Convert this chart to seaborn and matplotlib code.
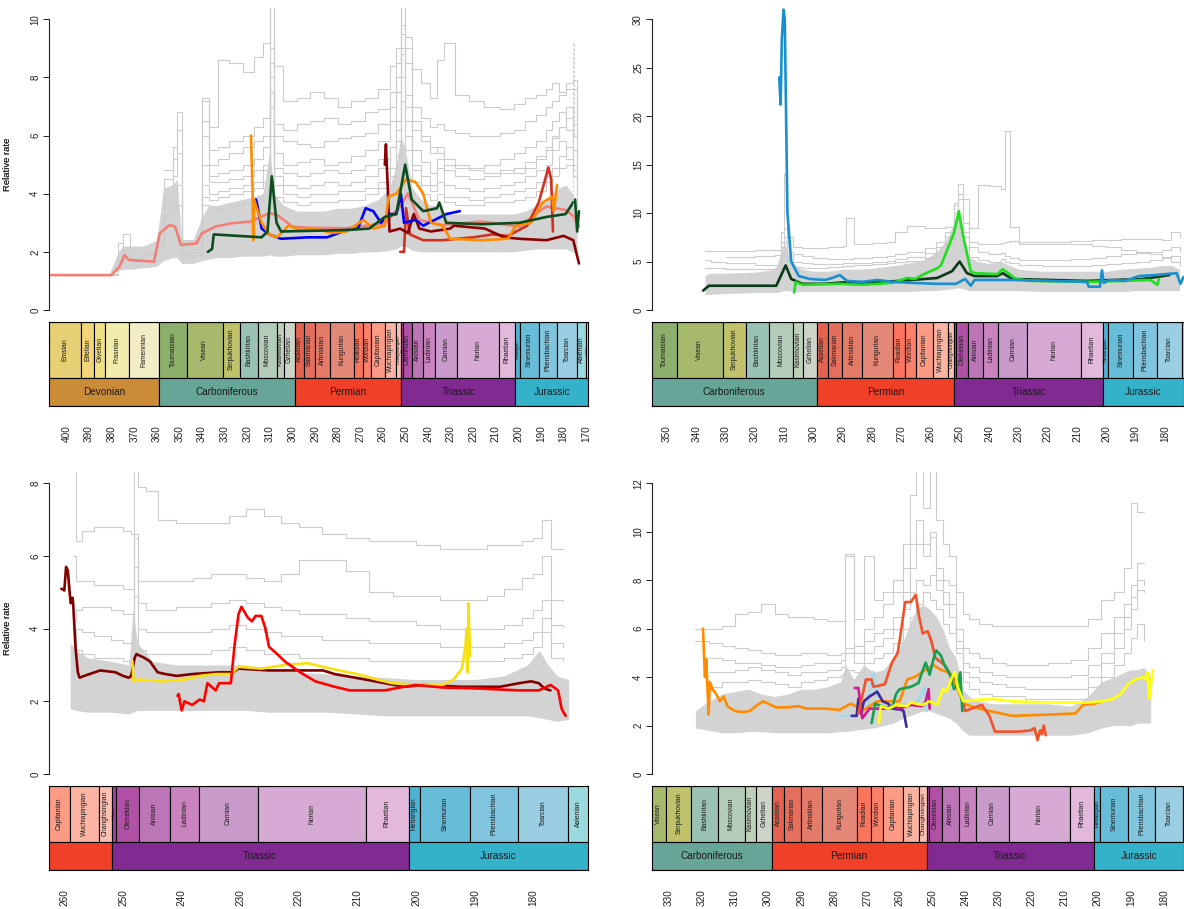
import numpy as np
import pandas as pd
import seaborn as sns
import matplotlib.pyplot as plt
from matplotlib.patches import Rectangle
from matplotlib.ticker import MultipleLocator

sns.set_style("white")
plt.rcParams['font.family'] = ['Liberation Sans', 'DejaVu Sans']

nan = np.nan

# ---- geological timescale (ICS 2018) ----
STAGE_NAMES = ['Pragian', 'Emsian', 'Eifelian', 'Givetian', 'Frasnian', 'Famennian',
               'Tournaisian', 'Visean', 'Serpukhovian', 'Bashkirian', 'Moscovian', 'Kasimovian', 'Gzhelian',
               'Asselian', 'Sakmarian', 'Artinskian', 'Kungurian', 'Roadian', 'Wordian', 'Capitanian',
               'Wuchiapingian', 'Changhsingian', 'Induan', 'Olenekian', 'Anisian', 'Ladinian', 'Carnian',
               'Norian', 'Rhaetian', 'Hettangian', 'Sinemurian', 'Pliensbachian', 'Toarcian', 'Aalenian', 'Bajocian']
STAGE_BASE = [410.8, 407.6, 393.3, 387.7, 382.7, 372.2, 358.9, 346.7, 330.9, 323.2, 315.2, 307.0, 303.7,
              298.9, 295.0, 290.1, 283.5, 272.95, 268.8, 265.1, 259.1, 254.14, 251.902, 251.2, 247.2, 242.0,
              237.0, 227.0, 208.5, 201.3, 199.3, 190.8, 182.7, 174.1, 170.3]
STAGE_TOP = STAGE_BASE[1:] + [168.3]
STAGE_COLS = ['#E5C468', '#E5D075', '#F1D576', '#F1E185', '#F2EDAD', '#F2EDC5',
              '#8CB06C', '#A6B96C', '#BFC26B', '#99C2B5', '#B3CBB9', '#BFD0BA', '#CCD4C7',
              '#E36350', '#E36F5C', '#E37B68', '#E38776', '#FB745C', '#FB8069', '#FB9A85',
              '#FCB4A2', '#FCC0B2', '#A4469F', '#B051A5', '#BC75B7', '#C983BF', '#C99BCB',
              '#D6AAD3', '#E3B9DB', '#4EB3D3', '#67BCD8', '#80C5DD', '#99CEE3', '#9AD9DD', '#A6DDE0']
PERIOD_NAMES = ['Devonian', 'Carboniferous', 'Permian', 'Triassic', 'Jurassic']
PERIOD_BASE = [419.2, 358.9, 298.9, 251.902, 201.3]
PERIOD_TOP = [358.9, 298.9, 251.902, 201.3, 145.0]
PERIOD_COLS = ['#CB8C37', '#67A599', '#F04028', '#812B92', '#34B2C9']

# ---- panel 1 (top left) ----
TL_GRID = [381, 377, 375, 372, 366, 360, 357, 353, 351, 349, 344, 340, 337, 333, 328, 322, 317, 313, 310, 308,
           304, 298, 292, 286, 280, 274, 268, 262, 257, 254, 252, 250, 247, 243, 239, 236, 233, 228, 222, 215,
           208, 202, 197, 192, 188, 185, 182, 179, 176, 174]
TL_BAND_LO = [1.2, 1.35, 1.4, 1.4, 1.45, 1.5, 1.7, 1.8, 1.8, 1.6, 1.6, 1.7, 1.75, 1.8, 1.8, 1.85, 1.85, 1.85, 1.9, 1.85,
              1.85, 1.9, 1.9, 1.9, 1.95, 1.95, 2.0, 2.0, 2.05, 2.1, 2.2, 2.2, 2.05, 2.0, 2.0, 2.0, 2.0, 2.0, 2.0, 2.0,
              2.0, 2.0, 2.05, 2.1, 2.1, 2.1, 2.1, 2.1, 2.0, 1.9]
TL_BAND_HI = [1.25, 2.0, 2.2, 2.2, 2.2, 2.4, 4.2, 4.3, 4.5, 2.4, 2.4, 3.2, 3.6, 3.6, 3.7, 3.8, 3.9, 4.0, 5.5, 4.0,
              3.6, 3.4, 3.4, 3.4, 3.5, 3.5, 3.6, 3.8, 4.2, 5.0, 6.0, 5.5, 4.2, 3.8, 3.6, 3.6, 3.3, 3.3, 3.3, 3.3,
              3.3, 3.3, 3.4, 3.6, 3.8, 4.0, 4.2, 4.3, 4.0, 3.0]
TL_GREY_1 = [nan] * 11 + [7.2, 6.3, 8.6, 8.5, 8.2, 8.7, 9.2, 10.5, 8.4, 7.2, 7.3, 7.5, 7.3, 7.0, 7.2, 7.3, 7.6, 8.4,
                          9.0, 10.5, 9.4, 8.3, 7.8, 7.3, 8.6, 9.2, 7.4, 7.2, 7.0, 6.9, 7.1, 7.3, 7.4, 7.6, 7.8, 7.5,
                          7.8, 7.9, 6.5]
TL_GREY_2 = [nan] * 11 + [6.5, 5.5, 5.6, 5.8, 6.0, 6.3, 6.6, 8.0, 6.4, 6.2, 6.4, 6.5, 6.6, 6.4, 6.5, 6.8, 6.9, 7.5,
                          8.5, 9.8, 8.5, 7.0, 6.6, 6.3, 6.4, 6.2, 6.1, 6.0, 6.0, 6.1, 6.2, 6.5, 6.7, 7.0, 7.2, 7.4,
                          7.6, 7.6, 6.0]
TL_GREY_3 = [nan] * 6 + [4.8, 5.2, 6.8, 2.2, 2.3, 5.0, 4.6, 4.7, 4.8, 5.0, 5.2, 5.6, 7.5, 5.4, 5.0, 5.1, 5.2, 5.0,
                         5.1, 5.3, 5.5, 5.8, 6.5, 7.5, 9.0, 7.4, 6.2, 5.8, 5.4, 5.6, 5.2, 5.0, 4.9, 5.0, 5.2, 5.4,
                         5.6, 5.8, 6.2, 6.5, 6.8, 6.2, 5.5, 4.8]
TL_GREY_4 = [nan] * 5 + [2.2, 4.0, 4.6, 5.4, 2.0, 2.1, 4.3, 4.0, 4.1, 4.2, 4.3, 4.4, 4.8, 9.0, 4.6, 4.3, 4.2, 4.3,
                         4.4, 4.3, 4.4, 4.6, 4.9, 5.6, 6.5, 8.0, 6.0, 5.0, 4.6, 4.3, 4.9, 4.3, 4.2, 4.1, 4.2, 4.3,
                         4.4, 4.6, 4.8, 5.0, 5.5, 5.8, 5.2, 4.8, 3.8]
TL_GREY_5 = [1.2, 1.6, 2.6, 2.0, 2.0, 2.4, 3.5, 3.8, 4.3, 1.8, 1.9, 3.6, 3.4, 3.5, 3.6, 3.7, 3.8, 4.0, 6.0, 3.9,
             3.7, 3.6, 3.7, 3.7, 3.8, 3.8, 4.0, 4.2, 4.6, 5.3, 7.2, 5.5, 4.4, 4.0, 3.8, 4.0, 3.7, 3.6, 3.6, 3.7,
             3.7, 3.8, 3.9, 4.1, 4.4, 4.6, 4.9, 5.0, 4.6, 3.5]
TL_GREY_6 = [1.25, 2.3, 2.0, 1.8, 1.9, 2.3, 4.5, 5.6, 6.2, 2.4, 2.4, 7.3, 5.0, 5.2, 5.4, 5.6, 5.8, 6.0, 10.5, 6.0,
             5.8, 5.7, 5.6, 5.8, 5.9, 6.0, 6.1, 6.4, 7.0, 8.0, 10.5, 9.0, 6.5, 6.0, 5.6, 5.4, 5.0, 4.9, 4.8, 4.7,
             4.8, 4.7, 4.9, 5.2, 5.5, 5.9, 6.3, 7.0, 6.0, 5.0]
TL_GREY_7 = [nan] * 11 + [6.0, 4.4, 4.4, 4.5, 4.6, 4.8, 5.0, 8.5, 4.9, 4.7, 4.6, 4.7, 4.8, 4.7, 4.8, 5.0, 5.2, 5.6,
                          6.2, 9.5, 7.0, 5.5, 5.1, 4.7, 5.2, 4.8, 4.6, 4.5, 4.6, 4.7, 4.9, 5.1, 5.3, 5.6, 6.0, 6.3,
                          6.6, 6.4, 5.2]
TL_GREY_8 = [nan] * 6 + [3.2, 3.4, 3.6, 1.9, 2.0, 3.9, 3.8, 3.9, 4.0, 4.1, 4.2, 4.4, 7.0, 4.3, 4.0, 3.9, 4.0, 4.0,
                         4.1, 4.1, 4.2, 4.4, 4.9, 5.8, 8.8, 6.5, 4.8, 4.3, 4.1, 4.4, 3.9, 3.9, 3.8, 3.9, 4.0, 4.1,
                         4.2, 4.4, 4.6, 4.9, 5.3, 5.6, 5.0, 4.2]
TL_DASH_AGE = [175.9, 175.9, 175.6, 175.6]
TL_DASH_RATE = [3.0, 9.2, 9.2, 6.0]

TL_SALMON_AGE = [408.5, 380.0, 376.5, 374.3, 372.3, 361.2, 358.7, 354.4, 351.9, 349.3, 342.5, 340.0, 334.0, 327.2,
                 318.7, 310.2, 306.8, 300.0, 293.1, 276.1, 259.1, 252.3, 248.9, 243.8, 233.6, 216.5, 199.5, 191.0,
                 187.6, 179.1, 175.7, 173.2]
TL_SALMON_RATE = [1.2, 1.2, 1.49, 1.89, 1.72, 1.66, 2.64, 2.92, 2.87, 2.24, 2.29, 2.64, 2.87, 2.98, 3.04, 3.33,
                  3.27, 2.87, 2.83, 2.81, 2.98, 3.56, 4.01, 3.1, 2.92, 3.04, 2.87, 3.38, 3.56, 3.44, 3.23, 2.87]
TL_DKGREEN_AGE = [337.4, 335.5, 334.8, 313.6, 311.0, 309.1, 307.0, 305.0, 276.1, 266.0, 259.1, 254.0, 250.1, 247.2,
                  242.1, 236.0, 235.0, 231.9, 216.5, 199.5, 187.6, 179.1, 174.9, 174.0, 173.2]
TL_DKGREEN_RATE = [2.0, 2.1, 2.6, 2.5, 2.7, 4.6, 3.0, 2.7, 2.75, 2.8, 3.2, 3.3, 5.0, 3.8, 3.4, 3.5, 3.7, 3.0,
                   2.95, 3.0, 3.2, 3.3, 3.8, 2.7, 3.4]
TL_BLUE_AGE = [316.1, 315.5, 313.6, 310.2, 305.1, 293.1, 284.6, 276.1, 271.0, 267.6, 264.2, 260.8, 257.4, 254.0,
               252.0, 250.6, 245.5, 242.1, 237.0, 231.9, 225.9]
TL_BLUE_RATE = [3.8, 3.6, 2.8, 2.6, 2.45, 2.5, 2.5, 2.75, 2.8, 3.5, 3.4, 3.0, 3.3, 3.3, 4.0, 3.0, 3.1, 2.9, 3.1,
                3.3, 3.4]
TL_ORANGE_AGE = [318.3, 317.6, 317.3, 317.0, 313.6, 310.2, 306.8, 301.7, 296.5, 289.7, 282.9, 276.1, 268.5, 264.2,
                 259.1, 257.4, 254.0, 249.7, 245.5, 242.1, 238.7, 233.6, 230.2, 216.5, 204.6, 201.2, 194.4, 189.3,
                 185.0, 184.3, 182.9]
TL_ORANGE_RATE = [6.0, 4.0, 2.4, 3.8, 3.0, 2.6, 2.5, 2.9, 2.75, 2.8, 2.65, 2.7, 3.1, 2.8, 2.9, 3.9, 4.0, 4.5, 4.4,
                  4.0, 3.0, 2.9, 2.45, 2.4, 2.45, 2.9, 3.0, 3.7, 3.9, 3.4, 4.3]
TL_DKRED_AGE = [259.1, 258.6, 257.0, 252.3, 248.9, 246.3, 243.8, 238.7, 230.2, 228.5, 214.8, 206.3, 199.5, 187.6,
                180.0, 175.7, 173.2]
TL_DKRED_RATE = [5.0, 5.7, 2.7, 2.8, 2.65, 3.3, 2.8, 2.7, 2.8, 2.9, 2.8, 2.5, 2.45, 2.4, 2.55, 2.4, 1.6]
TL_RED_AGE = [252.3, 250.6, 249.7, 248.0, 242.1, 233.6, 220.0, 211.4, 204.6, 196.1, 191.0, 186.7, 185.5, 184.7]
TL_RED_RATE = [2.0, 2.0, 3.5, 2.6, 2.4, 2.4, 2.5, 2.6, 2.55, 2.9, 3.7, 4.9, 4.5, 2.7]

# ---- panel 2 (top right) ----
TR_GRID = [337, 335, 330, 320, 313, 311, 310, 309, 307, 304, 300, 295, 290, 289, 286, 280, 275, 272, 268, 262,
           258, 255, 252, 250.5, 249, 247, 244, 240, 236, 234.5, 233, 230, 222, 212, 205, 200, 195, 190, 185, 181,
           178, 175]
TR_BAND_LO = [1.6, 1.6, 1.7, 1.8, 1.8, 1.9, 2.0, 2.0, 1.9, 1.9, 1.9, 1.9, 1.9, 1.9, 1.9, 1.9, 1.9, 1.9, 1.9, 2.0,
              2.0, 2.1, 2.2, 2.3, 2.2, 2.0, 2.0, 2.0, 2.0, 2.0, 2.0, 2.0, 1.9, 1.9, 1.9, 1.9, 1.9, 2.0, 2.0, 2.0,
              2.0, 2.0]
TR_BAND_HI = [3.6, 3.8, 3.8, 3.9, 4.2, 6.0, 7.0, 6.0, 4.8, 4.2, 4.0, 4.0, 4.2, 4.2, 4.2, 4.3, 4.5, 4.6, 4.8, 5.2,
              6.0, 7.0, 9.0, 10.0, 8.0, 5.5, 5.0, 4.8, 5.0, 4.8, 4.6, 4.2, 4.0, 4.0, 4.0, 4.0, 4.2, 4.3, 4.4, 4.6,
              4.6, 4.2]
TR_GREY_1 = [6.1, 6.1, 6.1, 6.2, 6.2, 8.0, 14.0, 7.5, 6.5, 6.4, 6.4, 6.5, 6.6, 9.5, 6.8, 6.9, 7.0, 8.0, 8.7, 8.5,
             8.5, 8.6, 10.8, 11.5, 8.0, 7.0, 6.8, 6.8, 6.9, 7.0, 7.1, 7.0, 7.0, 7.1, 7.2, 7.2, 7.3, 7.3, 7.3, 7.2,
             8.0, 7.5]
TR_GREY_2 = [nan, nan, 5.5, 5.6, 5.7, 6.5, 7.0, 6.0, 5.8, 5.6, 5.4, 5.3, 5.3, 5.3, 5.4, 5.5, 5.6, 5.8, 6.0, 6.4,
             7.0, 8.0, 11.0, 13.0, 11.5, 8.5, 12.9, 12.8, 12.5, 18.5, 8.6, 6.8, 6.8, 6.8, 6.6, 6.5, 6.2, 6.0, 5.8,
             5.5, 5.0, 4.5]
TR_GREY_3 = [5.2, 5.0, 4.8, 4.6, 4.6, 7.0, 8.5, 6.0, 5.0, 4.8, 4.7, 4.7, 4.8, 4.8, 4.9, 5.0, 5.1, 5.3, 5.5, 5.9,
             6.5, 7.5, 10.0, 12.0, 9.0, 6.5, 6.0, 5.8, 5.9, 5.6, 5.4, 5.2, 5.2, 5.3, 5.4, 5.6, 5.8, 5.9, 6.0, 6.2,
             6.5, 6.0]
TR_GREY_4 = [4.3, 4.3, 4.2, 4.2, 4.3, 5.5, 7.5, 5.0, 4.4, 4.3, 4.3, 4.4, 4.5, 4.5, 4.6, 4.7, 4.8, 5.0, 5.1, 5.4,
             6.0, 6.8, 8.5, 9.5, 7.5, 5.5, 5.2, 5.0, 5.3, 5.0, 4.8, 4.6, 4.5, 4.5, 4.6, 4.7, 4.8, 5.0, 5.2, 5.4,
             5.6, 5.0]

TR_BLUE_AGE = [311.7, 311.2, 310.8, 310.2, 309.8, 308.9, 307.6, 305.0, 301.2, 296.1, 293.6, 291.0, 288.5, 283.3,
               278.2, 273.1, 266.7, 257.8, 251.4, 248.2, 246.3, 245.0, 232.2, 219.4, 206.7, 206.0, 202.2, 201.5,
               200.9, 199.0, 193.9, 188.8, 183.7, 176.0, 174.7, 173.7]
TR_BLUE_RATE = [24.0, 21.2, 28.0, 31.0, 30.0, 10.0, 5.0, 3.5, 3.2, 3.1, 3.3, 3.6, 3.0, 2.9, 3.1, 2.9, 2.8, 2.7,
                2.7, 3.2, 2.5, 3.1, 3.1, 3.0, 2.9, 2.4, 2.4, 4.1, 2.8, 3.1, 3.0, 3.5, 3.6, 3.8, 2.7, 3.4]
TR_DKGREEN_AGE = [337.7, 335.7, 312.7, 309.5, 307.6, 303.8, 296.1, 289.7, 283.3, 270.6, 257.8, 252.7, 250.1, 247.6,
                  245.0, 237.3, 235.4, 232.2, 206.7, 187.5, 178.5]
TR_DKGREEN_RATE = [2.0, 2.5, 2.5, 4.6, 3.2, 2.7, 2.7, 2.85, 2.8, 3.0, 3.3, 4.0, 5.0, 3.8, 3.5, 3.5, 3.8, 3.2, 3.0,
                   3.2, 3.6]
TR_GREEN_AGE = [306.6, 306.1, 303.8, 291.0, 283.3, 273.1, 268.0, 265.4, 261.6, 257.8, 256.5, 254.6, 252.0, 250.4,
                248.8, 246.3, 245.0, 237.3, 235.4, 233.5, 230.9, 225.8, 206.7, 193.9, 185.0, 182.6, 182.1]
TR_GREEN_RATE = [1.8, 2.9, 2.6, 2.7, 2.6, 2.8, 3.3, 3.2, 3.8, 4.3, 4.6, 6.0, 8.0, 10.2, 7.5, 4.0, 3.8, 3.7, 4.2,
                 3.8, 3.2, 3.0, 2.9, 3.0, 3.1, 2.6, 3.2]

# ---- panel 3 (bottom left) ----
BL_GRID = [262, 260, 258.5, 258, 257, 255, 252, 250, 248.7, 248.2, 247.5, 246, 244, 241, 238, 235, 232, 229, 226,
           223, 220, 216, 212, 208, 204, 200, 196, 192, 188, 185, 182, 180, 178.5, 177, 175, 173]
BL_BAND_AGE = [259, 258, 256, 252, 249, 248.3, 247.5, 245, 241, 237, 233, 229, 225, 220, 215, 210, 205, 200, 195,
               190, 185, 181, 179, 177.5, 176, 174]
BL_BAND_LO = [1.8, 1.75, 1.7, 1.7, 1.65, 1.7, 1.75, 1.75, 1.75, 1.75, 1.75, 1.75, 1.7, 1.7, 1.7, 1.65, 1.6, 1.6,
              1.6, 1.6, 1.6, 1.6, 1.55, 1.5, 1.45, 1.5]
BL_BAND_HI = [3.6, 3.4, 3.2, 3.1, 3.0, 4.5, 3.6, 3.1, 3.0, 3.0, 3.0, 3.0, 2.9, 2.8, 2.75, 2.7, 2.65, 2.6, 2.6, 2.6,
              2.7, 3.0, 3.4, 3.0, 2.7, 2.6]
BL_GREY_1 = [nan, nan, 8.5, 6.4, 6.7, 6.8, 6.8, 6.7, 6.6, 8.5, 7.9, 7.8, 7.0, 6.9, 6.9, 6.9, 7.1, 7.3, 7.1, 6.9,
             6.8, 6.6, 6.5, 6.4, 6.4, 6.3, 6.2, 6.2, 6.3, 6.3, 6.4, 6.5, 7.0, 6.2, 6.2, nan]
BL_GREY_2 = [nan, nan, 6.0, 5.3, 5.3, 5.2, 5.2, 5.1, 5.1, 6.5, 5.3, 5.3, 5.3, 5.3, 5.4, 5.5, 5.5, 5.4, 5.3, 5.5,
             5.9, 5.9, 5.6, 5.0, 4.9, 4.9, 4.8, 4.8, 4.9, 5.1, 5.4, 5.5, 6.0, 4.8, 4.75, nan]
BL_GREY_3 = [nan, nan, 4.2, 4.5, 4.6, 4.6, 4.5, 4.4, 4.4, 6.6, 4.7, 4.5, 4.5, 4.6, 4.6, 4.7, 4.8, 4.7, 4.6, 4.5,
             4.4, 4.4, 4.3, 4.2, 4.2, 4.1, 4.0, 4.0, 4.0, 4.1, 4.3, 4.5, 4.8, 4.1, 4.05, nan]
BL_GREY_4 = [nan, nan, 3.5, 4.0, 3.9, 3.8, 3.7, 3.6, 3.6, 5.7, 4.0, 3.9, 3.9, 3.9, 3.9, 4.0, 4.1, 4.0, 3.9, 3.8,
             3.8, 3.7, 3.7, 3.6, 3.6, 3.6, 3.5, 3.5, 3.5, 3.6, 3.7, 3.9, 4.3, 3.6, 3.5, nan]
BL_GREY_5 = [nan, nan, 3.0, 3.4, 3.3, 3.2, 3.2, 3.1, 3.1, 4.9, 3.4, 3.3, 3.3, 3.3, 3.3, 3.4, 3.5, 3.4, 3.3, 3.3,
             3.2, 3.2, 3.2, 3.1, 3.1, 3.1, 3.1, 3.1, 3.1, 3.2, 3.3, 3.5, 3.9, 3.2, 3.1, nan]

BL_DKRED_AGE = [260.5, 260.0, 259.7, 259.4, 259.1, 258.9, 258.6, 258.5, 258.1, 257.7, 257.4, 256.6, 253.9, 251.3,
                250.0, 249.0, 248.6, 248.0, 247.7, 246.4, 245.4, 244.1, 242.8, 240.8, 238.2, 233.6, 231.3, 230.3,
                225.1, 220.5, 215.9, 213.9, 208.7, 205.4, 202.1, 198.8, 192.2, 185.7, 182.4, 180.4, 179.1, 178.1,
                177.1]
BL_DKRED_RATE = [5.1, 5.05, 5.7, 5.6, 5.0, 4.7, 4.85, 4.7, 3.5, 2.8, 2.65, 2.7, 2.85, 2.8, 2.7, 2.65, 2.7, 3.2,
                 3.3, 3.2, 3.1, 2.8, 2.75, 2.7, 2.75, 2.8, 2.8, 2.9, 2.85, 2.85, 2.85, 2.75, 2.6, 2.5, 2.4, 2.45,
                 2.4, 2.4, 2.5, 2.55, 2.5, 2.35, 2.3]
BL_YELLOW_AGE = [248.4, 248.2, 247.4, 243.4, 239.5, 236.9, 234.2, 231.6, 230.3, 226.4, 222.4, 218.5, 215.9, 213.2,
                 210.0, 206.7, 204.1, 200.1, 195.5, 193.6, 192.2, 191.6, 191.4, 191.2, 191.1, 190.8]
BL_YELLOW_RATE = [3.1, 2.55, 2.6, 2.55, 2.6, 2.7, 2.75, 2.75, 2.95, 2.9, 3.0, 3.05, 2.95, 2.85, 2.75, 2.6, 2.5,
                  2.45, 2.45, 2.6, 2.9, 3.5, 4.0, 2.8, 4.7, 3.25]
BL_RED_AGE = [240.7, 240.5, 240.0, 239.5, 238.2, 236.9, 236.2, 235.6, 234.2, 233.6, 231.6, 231.0, 230.3, 229.8,
              228.7, 228.0, 227.4, 226.4, 225.7, 225.1, 223.7, 222.4, 221.1, 219.8, 217.2, 213.9, 211.3, 205.4,
              202.1, 200.1, 195.5, 189.0, 182.4, 179.1, 177.1, 176.2, 175.8, 175.2, 174.9, 174.5]
BL_RED_RATE = [2.15, 2.2, 1.75, 2.0, 1.9, 2.05, 2.0, 2.5, 2.3, 2.5, 2.5, 3.5, 4.4, 4.6, 4.3, 4.2, 4.35, 4.35, 4.0,
               3.5, 3.3, 3.1, 2.95, 2.8, 2.55, 2.4, 2.3, 2.3, 2.4, 2.45, 2.38, 2.35, 2.3, 2.3, 2.45, 2.35, 2.3,
               1.8, 1.7, 1.6]

# ---- panel 4 (bottom right) ----
BR_GRID = [322, 318, 314, 310, 306, 302, 298, 294, 290, 286, 282, 278, 276.5, 274, 271, 268, 265, 262, 259, 257,
           255, 253, 251, 249, 247, 245, 243, 241, 239, 236, 232, 228, 222, 215, 208, 203, 199, 195, 192, 190,
           188, 186, 184]
BR_BAND_LO = [1.9, 1.8, 1.7, 1.7, 1.75, 1.75, 1.7, 1.7, 1.7, 1.7, 1.7, 1.75, 1.75, 1.8, 1.85, 1.9, 2.0, 2.1, 2.3,
              2.4, 2.5, 2.6, 2.6, 2.5, 2.4, 2.3, 2.1, 1.8, 1.6, 1.6, 1.6, 1.6, 1.6, 1.6, 1.6, 1.7, 1.9, 2.0, 2.0,
              2.0, 2.1, 2.1, 2.1]
BR_BAND_HI = [2.6, 3.0, 3.3, 3.4, 3.5, 3.3, 3.2, 3.3, 3.5, 3.5, 3.6, 3.8, 4.5, 3.9, 4.5, 4.2, 4.3, 4.8, 5.5, 6.2,
              6.8, 7.0, 6.8, 6.5, 6.0, 5.2, 4.8, 3.5, 3.2, 3.0, 2.9, 2.9, 2.9, 2.9, 2.8, 3.2, 3.8, 4.0, 4.2, 4.3,
              4.3, 4.4, 4.0]
BR_GREY_1 = [6.0, 6.0, 6.1, 6.6, 6.7, 7.0, 6.6, 6.5, 6.5, 6.4, 6.3, 6.3, 9.0, 6.4, 9.0, 7.2, 7.5, 8.0, 9.5, 11.5,
             12.5, 11.0, 12.5, 10.5, 9.5, 9.0, 7.5, 6.6, 6.4, 6.2, 6.1, 6.1, 6.1, 6.1, 6.1, 6.4, 7.2, 7.5, 8.5,
             11.2, 10.8, 10.8, nan]
BR_GREY_2 = [5.5, 5.4, 5.3, 5.2, 5.1, 5.0, 4.9, 4.9, 5.0, 5.0, 4.9, 5.0, 5.2, 5.3, 6.0, 6.5, 7.0, 7.5, 8.5, 9.5,
             10.5, 9.5, 10.0, 8.5, 8.0, 7.8, 6.0, 5.2, 5.0, 4.8, 4.6, 4.5, 4.5, 4.6, 4.7, 5.2, 5.8, 6.5, 7.0, 7.8,
             8.7, 8.7, nan]
BR_GREY_3 = [nan, 4.2, 4.2, 4.3, 4.4, 4.3, 4.2, 4.1, 4.2, 4.2, 4.3, 4.4, 9.1, 4.6, 5.0, 5.3, 5.6, 6.0, 6.8, 7.5,
             8.0, 7.8, 8.2, 7.6, 7.0, 6.5, 5.0, 4.2, 4.0, 3.8, 3.7, 3.6, 3.5, 3.5, 3.5, 4.0, 4.6, 5.2, 6.0, 6.8,
             7.6, 7.5, nan]
BR_GREY_4 = [nan, 3.6, 3.8, 3.8, 3.9, 3.8, 3.7, 3.6, 3.8, 3.9, 4.0, 4.1, 4.3, 4.2, 4.6, 4.8, 5.0, 5.4, 6.0, 6.5,
             7.0, 7.5, 7.2, 6.8, 6.2, 5.8, 5.2, 3.8, 3.5, 3.3, 3.2, 3.2, 3.1, 3.1, 3.1, 3.6, 4.0, 4.5, 5.0, 5.6,
             6.2, 5.5, nan]
BR_GREY_5 = [nan, 4.8, 4.7, 4.6, 4.6, 4.5, 4.4, 4.4, 4.5, 4.6, 4.6, 4.7, 5.0, 5.0, 5.5, 5.8, 6.0, 6.5, 7.5, 8.5,
             9.5, 9.0, 9.8, 8.0, 7.5, 7.0, 5.5, 4.6, 4.4, 4.2, 4.1, 4.0, 4.0, 4.0, 4.1, 4.5, 5.0, 5.8, 6.5, 7.3,
             8.0, 7.8, nan]

BR_ORANGE_AGE = [319.7, 319.1, 318.7, 318.0, 317.6, 316.8, 315.7, 314.6, 313.4, 312.3, 310.0, 307.8, 305.5, 303.2,
                 301.5, 299.8, 297.6, 294.1, 290.7, 288.5, 282.8, 278.3, 274.9, 272.6, 271.5, 266.9, 260.1, 257.8,
                 255.6, 252.2, 249.9, 247.6, 245.3, 243.6, 242.5, 240.8, 237.4, 232.9, 226.0, 214.7, 206.8, 204.5,
                 201.1, 198.8]
BR_ORANGE_RATE = [6.0, 4.0, 4.75, 2.45, 3.8, 3.5, 3.3, 3.0, 3.2, 2.8, 2.6, 2.55, 2.6, 2.85, 3.0, 2.9, 2.75, 2.75,
                  2.8, 2.7, 2.7, 2.65, 2.9, 2.75, 2.6, 3.0, 3.0, 3.9, 4.0, 4.3, 4.5, 4.3, 4.2, 3.8, 3.5, 2.9, 2.75,
                  2.6, 2.4, 2.45, 2.5, 2.85, 2.9, 3.0]
BR_REDORANGE_AGE = [272.6, 270.3, 268.6, 268.0, 264.6, 262.4, 260.7, 260.1, 258.4, 256.7, 255.2, 254.2, 253.1,
                    251.6, 250.5, 249.3, 246.5, 244.2, 242.5, 240.2, 236.3, 235.1, 232.9, 231.2, 223.8, 220.4,
                    219.2, 218.3, 217.5, 217.0, 216.4, 215.8]
BR_REDORANGE_RATE = [2.5, 3.9, 3.9, 3.6, 3.7, 4.6, 5.0, 5.5, 7.1, 7.1, 7.4, 6.5, 5.8, 5.9, 5.5, 4.8, 4.5, 4.0, 3.8,
                     2.6, 2.8, 2.85, 2.4, 1.75, 1.75, 1.8, 1.9, 1.4, 1.8, 1.65, 2.0, 1.6]
BR_GREEN_AGE = [268.6, 267.5, 264.6, 262.4, 261.2, 260.1, 256.7, 254.4, 253.3, 252.2, 251.0, 249.9, 249.0, 247.6,
                246.5, 244.8, 243.6, 242.5, 241.7, 241.1]
BR_GREEN_RATE = [2.1, 2.9, 2.75, 2.7, 3.3, 3.5, 3.6, 3.75, 4.2, 4.6, 4.1, 4.7, 5.1, 4.9, 4.5, 4.1, 3.5, 3.7, 4.2, 2.6]
BR_YELLOW_AGE = [266.3, 265.8, 263.5, 261.2, 257.8, 256.7, 253.3, 251.0, 248.7, 247.0, 245.9, 244.2, 243.3, 242.5,
                 240.8, 237.4, 231.7, 226.0, 214.7, 203.3, 198.8, 195.4, 193.1, 190.9, 188.6, 186.3, 185.4, 185.0,
                 184.4, 183.8, 183.3]
BR_YELLOW_RATE = [2.1, 2.8, 2.7, 2.85, 2.8, 2.95, 2.85, 3.0, 2.85, 3.5, 3.4, 4.0, 4.2, 3.6, 3.0, 3.05, 3.1, 3.0,
                  2.95, 2.95, 3.0, 3.1, 3.3, 3.7, 3.9, 4.0, 3.9, 4.2, 3.1, 3.8, 4.3]
BR_INDIGO_AGE = [274.6, 273.1, 272.6, 271.8, 270.9, 269.2, 268.0, 266.9, 265.2, 263.5, 262.4, 259.5, 258.9, 258.0]
BR_INDIGO_RATE = [2.4, 2.4, 3.1, 2.5, 3.0, 3.2, 3.3, 3.4, 3.0, 2.9, 2.7, 2.65, 2.6, 1.95]
BR_MAGENTA_AGE = [273.7, 272.6, 271.7, 271.4, 269.2, 264.6, 262.4, 260.1, 256.7, 253.3, 252.2, 251.3, 251.0]
BR_MAGENTA_RATE = [3.55, 3.55, 2.6, 2.3, 2.7, 2.7, 2.8, 2.7, 2.85, 2.8, 3.0, 3.5, 2.7]
BR_LTBLUE_AGE = [278.3, 274.0, 270.0, 268.0, 267.0, 265.0, 255.0, 252.5, 252.0]
BR_LTBLUE_RATE = [2.4, 2.4, 2.7, 4.2, 3.3, 2.8, 2.9, 3.6, 2.6]

W, H = 1184, 909
fig = plt.figure(figsize=(W / 100, H / 100), dpi=100)


def box(x0, x1, ytop, ybot):
    return [x0 / W, 1 - ybot / H, (x1 - x0) / W, (ybot - ytop) / H]


def grey_frame(ages, lines):
    rows = []
    for i, vals in enumerate(lines):
        for a, v in zip(ages, vals):
            if not np.isnan(v):
                rows.append((i, a, v))
    return pd.DataFrame(rows, columns=['line', 'age', 'rate'])


def rate_panel(x0, x1, ytop, ybot, xlim, ylim, yticks, band, grid, greys, colored):
    ax = fig.add_axes(box(x0, x1, ytop, ybot))
    ax.fill_between(band[0], band[1], band[2], color='#d3d3d3', lw=0)
    sns.lineplot(data=grey_frame(grid, greys), x='age', y='rate', units='line', estimator=None,
                 sort=False, color='#cccccc', lw=0.8, drawstyle='steps-post', ax=ax)
    for ages, rates, col in colored:
        sns.lineplot(x=ages, y=rates, color=col, lw=1.9, sort=False, estimator=None, ax=ax)
    ax.set_xlim(xlim)
    ax.set_ylim(ylim)
    for s in ['top', 'right', 'bottom']:
        ax.spines[s].set_visible(False)
    ax.spines['left'].set_bounds(yticks[0], yticks[-1])
    ax.spines['left'].set_linewidth(0.8)
    ax.spines['left'].set_color('#222222')
    ax.set_xticks([])
    ax.set_xlabel('')
    ax.set_yticks(yticks)
    ax.set_yticklabels([str(t) for t in yticks], rotation=90, va='center', fontsize=7, color='#222222')
    ax.tick_params(axis='y', length=4, width=0.7, pad=2, color='#222222', left=True)
    ax.set_ylabel('Relative rate', fontsize=6.8, color='#222222')
    ax.yaxis.set_label_coords((12 - x0) / (x1 - x0), 0.5)
    return ax


def time_scale(x0, x1, ytop, ybot, xlim):
    ax = fig.add_axes(box(x0, x1, ytop, ybot))
    ax.set_xlim(xlim)
    ax.set_ylim(0, 84)
    ppm = (x1 - x0) / (xlim[0] - xlim[1])
    for name, b, t, c in zip(STAGE_NAMES, STAGE_BASE, STAGE_TOP, STAGE_COLS):
        ax.add_patch(Rectangle((t, 28), b - t, 56, fc=c, ec='black', lw=0.8))
        vo, vy = min(b, xlim[0]), max(t, xlim[1])
        w = (vo - vy) * ppm
        if w > 1.2:
            ax.text((vo + vy) / 2, 56, name, rotation=90, ha='center', va='center',
                    fontsize=min(4.9, w * 0.62), color='#1a1a1a', clip_on=True)
    for name, b, t, c in zip(PERIOD_NAMES, PERIOD_BASE, PERIOD_TOP, PERIOD_COLS):
        ax.add_patch(Rectangle((t, 0), b - t, 28, fc=c, ec='black', lw=0.8))
        vo, vy = min(b, xlim[0]), max(t, xlim[1])
        if vo > vy and (vo - vy) / (b - t) > 0.3:
            ax.text((vo + vy) / 2, 14, name, ha='center', va='center', fontsize=7.2,
                    color='#1a1a1a', clip_on=True)
    for s in ax.spines.values():
        s.set_linewidth(0.8)
        s.set_color('black')
    ax.set_yticks([])
    ax.xaxis.set_major_locator(MultipleLocator(10))
    ax.xaxis.set_minor_locator(MultipleLocator(1))
    ax.xaxis.set_major_formatter(lambda v, p: f"{v:.0f}")
    ax.tick_params(axis='x', which='both', direction='out', length=8, width=0.6, color='#111111')
    ax.tick_params(axis='x', which='major', labelsize=7.2, labelrotation=90, pad=6, labelcolor='#222222')
    return ax


# top left
ax1 = rate_panel(48.5, 588, 7.7, 321.6, (407.9, 169.2), (-0.4, 10.4), [0, 2, 4, 6, 8, 10],
                 (TL_GRID, TL_BAND_LO, TL_BAND_HI), TL_GRID,
                 [TL_GREY_1, TL_GREY_2, TL_GREY_3, TL_GREY_4, TL_GREY_5, TL_GREY_6, TL_GREY_7, TL_GREY_8],
                 [(TL_SALMON_AGE, TL_SALMON_RATE, '#F08078'),
                  (TL_RED_AGE, TL_RED_RATE, '#D3301F'),
                  (TL_DKRED_AGE, TL_DKRED_RATE, '#8B0000'),
                  (TL_BLUE_AGE, TL_BLUE_RATE, '#0000FF'),
                  (TL_ORANGE_AGE, TL_ORANGE_RATE, '#FF8C00'),
                  (TL_DKGREEN_AGE, TL_DKGREEN_RATE, '#0B4D1E')])
ax1.plot(TL_DASH_AGE, TL_DASH_RATE, color='#cccccc', lw=0.8, ls=(0, (2, 2)))
time_scale(48.5, 588, 321.6, 405.5, (407.9, 169.2))

# top right
rate_panel(651.5, 1184, 7.7, 321.6, (355.3, 173.5), (-1.2, 31.2), [0, 5, 10, 15, 20, 25, 30],
           (TR_GRID, TR_BAND_LO, TR_BAND_HI), TR_GRID,
           [TR_GREY_1, TR_GREY_2, TR_GREY_3, TR_GREY_4],
           [(TR_DKGREEN_AGE, TR_DKGREEN_RATE, '#0A3A18'),
            (TR_GREEN_AGE, TR_GREEN_RATE, '#1EE01E'),
            (TR_BLUE_AGE, TR_BLUE_RATE, '#1A8FD0')])
time_scale(651.5, 1184, 321.6, 405.5, (355.3, 173.5))

# bottom left
rate_panel(48.5, 588, 471.7, 785.6, (262.7, 170.7), (-0.32, 8.32), [0, 2, 4, 6, 8],
           (BL_BAND_AGE, BL_BAND_LO, BL_BAND_HI), BL_GRID,
           [BL_GREY_1, BL_GREY_2, BL_GREY_3, BL_GREY_4, BL_GREY_5],
           [(BL_DKRED_AGE, BL_DKRED_RATE, '#800000'),
            (BL_YELLOW_AGE, BL_YELLOW_RATE, '#F7E011'),
            (BL_RED_AGE, BL_RED_RATE, '#FF0000')])
time_scale(48.5, 588, 785.6, 869.5, (262.7, 170.7))

# bottom right
rate_panel(651.5, 1184, 471.7, 785.6, (335.3, 173.9), (-0.48, 12.48), [0, 2, 4, 6, 8, 10, 12],
           (BR_GRID, BR_BAND_LO, BR_BAND_HI), BR_GRID,
           [BR_GREY_1, BR_GREY_2, BR_GREY_3, BR_GREY_4, BR_GREY_5],
           [(BR_LTBLUE_AGE, BR_LTBLUE_RATE, '#A8D8EC'),
            (BR_ORANGE_AGE, BR_ORANGE_RATE, '#FF8C00'),
            (BR_INDIGO_AGE, BR_INDIGO_RATE, '#3D2B9A'),
            (BR_MAGENTA_AGE, BR_MAGENTA_RATE, '#D0198F'),
            (BR_REDORANGE_AGE, BR_REDORANGE_RATE, '#F2522A'),
            (BR_GREEN_AGE, BR_GREEN_RATE, '#14A050'),
            (BR_YELLOW_AGE, BR_YELLOW_RATE, '#FFFF10')])
time_scale(651.5, 1184, 785.6, 869.5, (335.3, 173.9))

fig.savefig('out.png', dpi=100)
